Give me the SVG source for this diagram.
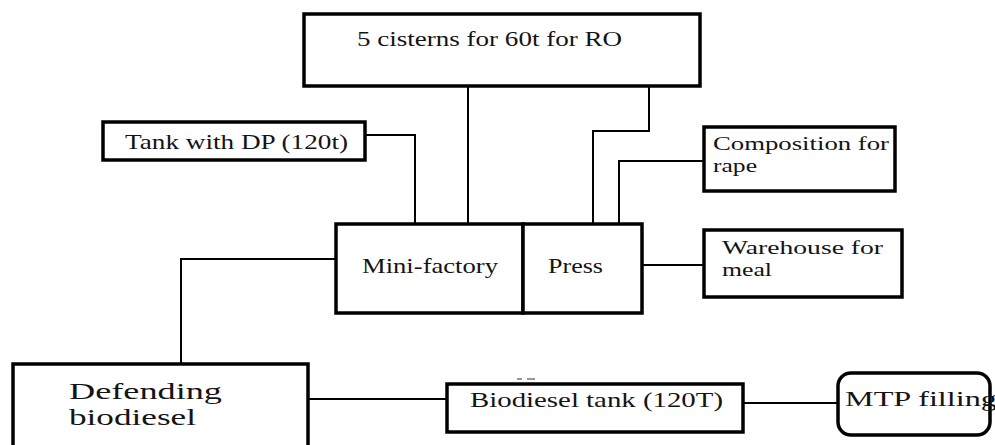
<svg xmlns="http://www.w3.org/2000/svg" width="995" height="445" viewBox="0 0 995 445">
<style>
.box{fill:#fff;stroke:#000;stroke-width:3.5}
.ln{fill:none;stroke:#000;stroke-width:2}
.t{font-family:"Liberation Serif","Times New Roman",serif;font-size:21px;fill:#141414}
.t2{font-family:"Liberation Serif","Times New Roman",serif;font-size:19px;fill:#141414}
.tb{font-family:"Liberation Serif","Times New Roman",serif;font-size:23px;fill:#141414}
</style>
<rect width="995" height="445" fill="#fff"/>
<g id="connectors">
<polyline class="ln" points="468,86 468,223"/>
<polyline class="ln" points="649,86 649,131 593,131 593,223"/>
<polyline class="ln" points="365,135 415,135 415,223"/>
<polyline class="ln" points="703,161 619,161 619,223"/>
<polyline class="ln" points="642,265 703,265"/>
<polyline class="ln" points="335,259 181,259 181,363"/>
<polyline class="ln" points="308,399 446,399"/>
<polyline class="ln" points="743,403 837,403"/>
</g>
<g id="cisterns">
<rect class="box" x="304" y="14" width="396" height="72"/>
<text class="t" x="357" y="46" textLength="265" lengthAdjust="spacingAndGlyphs">5 cisterns for 60t for RO</text>
</g>
<g id="tank-dp">
<rect class="box" x="103" y="122" width="262" height="38"/>
<text class="t" x="125" y="149" textLength="223" lengthAdjust="spacingAndGlyphs">Tank with DP (120t)</text>
</g>
<g id="composition">
<rect class="box" x="704" y="127" width="191" height="64"/>
<text class="t2" x="713" y="150" textLength="176" lengthAdjust="spacingAndGlyphs">Composition for</text>
<text class="t2" x="713" y="172" textLength="44" lengthAdjust="spacingAndGlyphs">rape</text>
</g>
<g id="mini-factory">
<rect class="box" x="336" y="224" width="187" height="89"/>
<text class="t" x="362" y="273" textLength="136" lengthAdjust="spacingAndGlyphs">Mini-factory</text>
</g>
<g id="press">
<rect class="box" x="523" y="224" width="119" height="89"/>
<text class="t" x="548" y="273" textLength="55" lengthAdjust="spacingAndGlyphs">Press</text>
</g>
<g id="warehouse">
<rect class="box" x="704" y="230" width="198" height="67"/>
<text class="t2" x="722" y="254" textLength="161" lengthAdjust="spacingAndGlyphs">Warehouse for</text>
<text class="t2" x="722" y="276" textLength="50" lengthAdjust="spacingAndGlyphs">meal</text>
</g>
<g id="defending">
<rect class="box" x="13" y="364" width="295" height="100"/>
<text class="tb" x="69" y="399" textLength="153" lengthAdjust="spacingAndGlyphs">Defending</text>
<text class="tb" x="69" y="425" textLength="127" lengthAdjust="spacingAndGlyphs">biodiesel</text>
</g>
<g id="biodiesel-tank">
<rect class="box" x="447" y="384" width="296" height="48"/>
<text class="t" x="470" y="407" textLength="253" lengthAdjust="spacingAndGlyphs">Biodiesel tank (120T)</text>
<line x1="517" y1="379" x2="522" y2="379" stroke="#333" stroke-width="1"/>
<line x1="527" y1="379" x2="535" y2="379" stroke="#333" stroke-width="1"/>
</g>
<g id="mtp">
<rect class="box" x="838" y="373" width="152" height="62" rx="13" ry="13"/>
<text class="t" x="845" y="406" textLength="152" lengthAdjust="spacingAndGlyphs">MTP filling</text>
</g>
</svg>
